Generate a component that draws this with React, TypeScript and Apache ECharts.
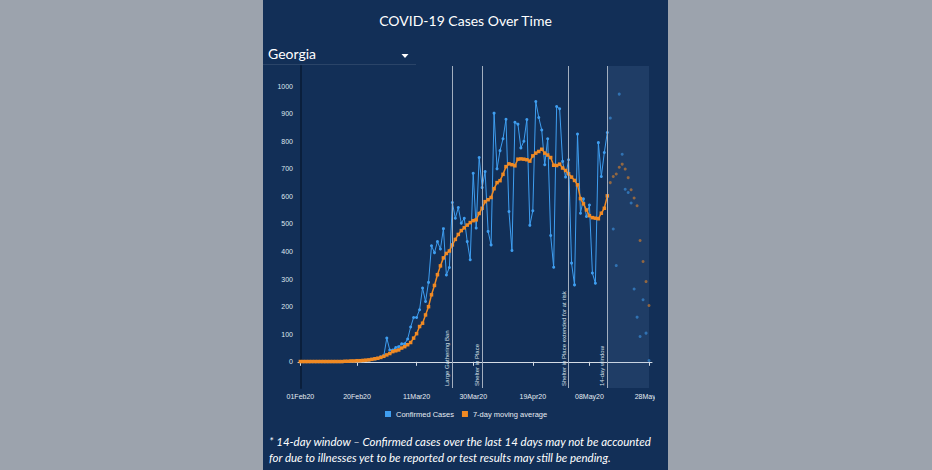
import React, { useEffect, useRef } from "react";
import * as echarts from "echarts";

// ---- data (day index 0 = 01 Feb 2020) ----
const tickDays = [0, 19, 39, 58, 78, 97, 117];
const tickLabels = ["01Feb20", "20Feb20", "11Mar20", "30Mar20", "19Apr20", "08May20", "28May20"];
const yTicks = [0, 100, 200, 300, 400, 500, 600, 700, 800, 900, 1000];

const confirmedCases = [
  0, 0, 0, 0, 0, 0, 0, 0, 0, 0, 0, 0, 0, 0, 0,
  1, 1, 2, 2, 3, 3, 4, 5, 6, 8, 10, 13, 18, 22,
  86, 43, 43, 52, 55, 65, 65, 83, 126, 161, 161, 189, 268, 219, 288, 421, 396, 436, 409, 483,
  315, 342, 578, 521, 560, 503, 521, 436, 370, 684, 485, 741, 632, 690, 473, 424, 902, 700,
  766, 809, 880, 545, 404, 869, 862, 776, 800, 879, 495, 548, 944, 886, 841, 715, 809, 458,
  343, 926, 918, 727, 670, 733, 358, 279, 826, 539, 591, 527, 569, 322, 285, 795, 672, 759, 832,
];
const movingAverage = [
  1, 1, 1, 1, 1, 1, 1, 1, 1, 1, 1, 1, 1, 1, 1,
  2, 2, 3, 3, 4, 4, 5, 6, 7, 9, 11, 13, 16, 20,
  25, 30, 37, 40, 43, 50, 55, 62, 70, 86, 102, 128, 140, 170, 200, 243, 277, 316, 348, 377,
  393, 402, 424, 444, 462, 476, 486, 496, 505, 512, 515, 538, 557, 581, 588, 596, 628, 650,
  657, 680, 708, 718, 715, 711, 735, 736, 735, 733, 728, 747, 757, 763, 771, 757, 750, 741,
  713, 712, 717, 703, 694, 682, 670, 658, 642, 592, 573, 551, 530, 523, 521, 519, 539, 557, 602,
];
// last 14 days (pending window)
const windowCases = [884, 482, 349, 971, 753, 626, 614, 576, 264, 162, 92, 225, 104, 5];
const windowAverage = [650, 672, 681, 706, 717, 699, 668, 624, 594, 566, 440, 364, 291, 204];

const eventDays = [51, 61, 90, 103];
const eventLabels = ["Large Gathering Ban", "Shelter in Place", "Shelter in Place extended for at risk", "14-day window"];
const windowEnd = 117;

const seriesNames = ["Confirmed Cases", "7-day moving average"];

export default function App() {
  const ref = useRef<HTMLDivElement>(null);
  useEffect(() => {
    if (!ref.current) return;
    const chart = echarts.init(ref.current, undefined, { renderer: "svg" });
    const toPairs = (arr: number[], start: number) => arr.map((v, i) => [start + i, v]);
    const winStart = confirmedCases.length;
    const panel = "#122f57";

    chart.setOption({
      animation: false,
      backgroundColor: "#9ca3ad",
      graphic: [
        { type: "rect", z: -10, shape: { x: 263, y: 0, width: 405, height: 470 }, style: { fill: panel } },
        {
          type: "text", x: 465.5, y: 20,
          style: { text: "COVID-19 Cases Over Time", fill: "#ffffff", font: "14px Lato", align: "center", verticalAlign: "middle" },
        },
        {
          type: "text", x: 268, y: 53,
          style: { text: "Georgia", fill: "#ffffff", font: "14px Lato", align: "left", verticalAlign: "middle" },
        },
        { type: "polygon", shape: { points: [[401.5, 54], [408.5, 54], [405, 58]] }, style: { fill: "#ffffff" } },
        { type: "rect", shape: { x: 263, y: 64, width: 153, height: 1 }, style: { fill: "rgba(255,255,255,0.1)" } },
        {
          type: "text", x: 269, y: 441,
          style: {
            text: "* 14-day window \u2013 Confirmed cases over the last 14 days may not be accounted",
            fill: "#ffffff", font: "italic 11.5px Lato", align: "left", verticalAlign: "middle",
          },
        },
        {
          type: "text", x: 269, y: 457,
          style: {
            text: "for due to illnesses yet to be reported or test results may still be pending.",
            fill: "#ffffff", font: "italic 11.5px Lato", align: "left", verticalAlign: "middle",
          },
        },
        // the chart's own svg edge clips the last tick label
        { type: "rect", z: 100, shape: { x: 655, y: 390, width: 13, height: 12 }, style: { fill: panel } },
      ],
      legend: {
        left: 380, top: 405,
        icon: "rect", itemWidth: 6, itemHeight: 6, itemGap: 8,
        textStyle: { color: "#e6ecf2", fontSize: 7.5, fontFamily: "Liberation Sans" },
        data: seriesNames,
      },
      grid: { left: 298, top: 66, width: 354, height: 322 },
      xAxis: {
        type: "value", min: -0.8, max: 118,
        splitLine: { show: false },
        axisLine: { show: true, lineStyle: { color: "#d5dce5", width: 1 } },
        axisTick: { show: true, customValues: tickDays, length: 4, lineStyle: { color: "#d5dce5" } },
        axisLabel: {
          customValues: tickDays, color: "#e6ecf2", fontSize: 7, fontFamily: "Liberation Sans", margin: 5,
          formatter: (v: number) => tickLabels[tickDays.indexOf(v)] ?? "",
        },
      },
      yAxis: {
        type: "value", min: -95, max: 1073,
        splitLine: { show: false },
        axisLine: { show: true, lineStyle: { color: "#0a1f3c", width: 2 } },
        axisTick: { show: false },
        axisLabel: {
          customValues: yTicks, color: "#dfe6ee", fontSize: 7, fontFamily: "Liberation Sans", margin: 5,
          formatter: (v: number) => String(v),
        },
      },
      series: [
        {
          name: seriesNames[0], type: "line", data: toPairs(confirmedCases, 0),
          color: "#3f9ef0", symbol: "circle", symbolSize: 3, showSymbol: true,
          lineStyle: { width: 1, color: "#3f9ef0" }, itemStyle: { color: "#3f9ef0" }, z: 3,
          markLine: {
            silent: true, symbol: "none",
            lineStyle: { color: "#a3afbf", width: 1, type: "solid" },
            label: {
              show: true, position: "insideStartTop", color: "#d8e0ea", fontSize: 6,
              fontFamily: "Liberation Sans", distance: 2,
              formatter: (p: any) => eventLabels[eventDays.indexOf(p.value)] ?? "",
            },
            data: eventDays.map((d) => ({ xAxis: d })),
          },
          markArea: {
            silent: true,
            itemStyle: { color: "rgba(120,160,210,0.13)" },
            data: [[{ xAxis: eventDays[3] }, { xAxis: windowEnd }]],
          },
        },
        {
          name: seriesNames[1], type: "line", data: toPairs(movingAverage, 0),
          color: "#f08a24", symbol: "rect", symbolSize: 3.5, showSymbol: true,
          lineStyle: { width: 1.5, color: "#f08a24" }, itemStyle: { color: "#f08a24" }, z: 4,
        },
        {
          name: seriesNames[0], type: "scatter", data: toPairs(windowCases, winStart),
          symbol: "circle", symbolSize: 3, itemStyle: { color: "#3f9ef0", opacity: 0.55 }, z: 3,
        },
        {
          name: seriesNames[1], type: "scatter", data: toPairs(windowAverage, winStart),
          symbol: "circle", symbolSize: 3, itemStyle: { color: "#f08a24", opacity: 0.55 }, z: 4,
        },
      ],
    });
    return () => chart.dispose();
  }, []);
  return <div ref={ref} style={{ position: "absolute", left: 0, top: 0, width: 932, height: 470 }} />;
}
